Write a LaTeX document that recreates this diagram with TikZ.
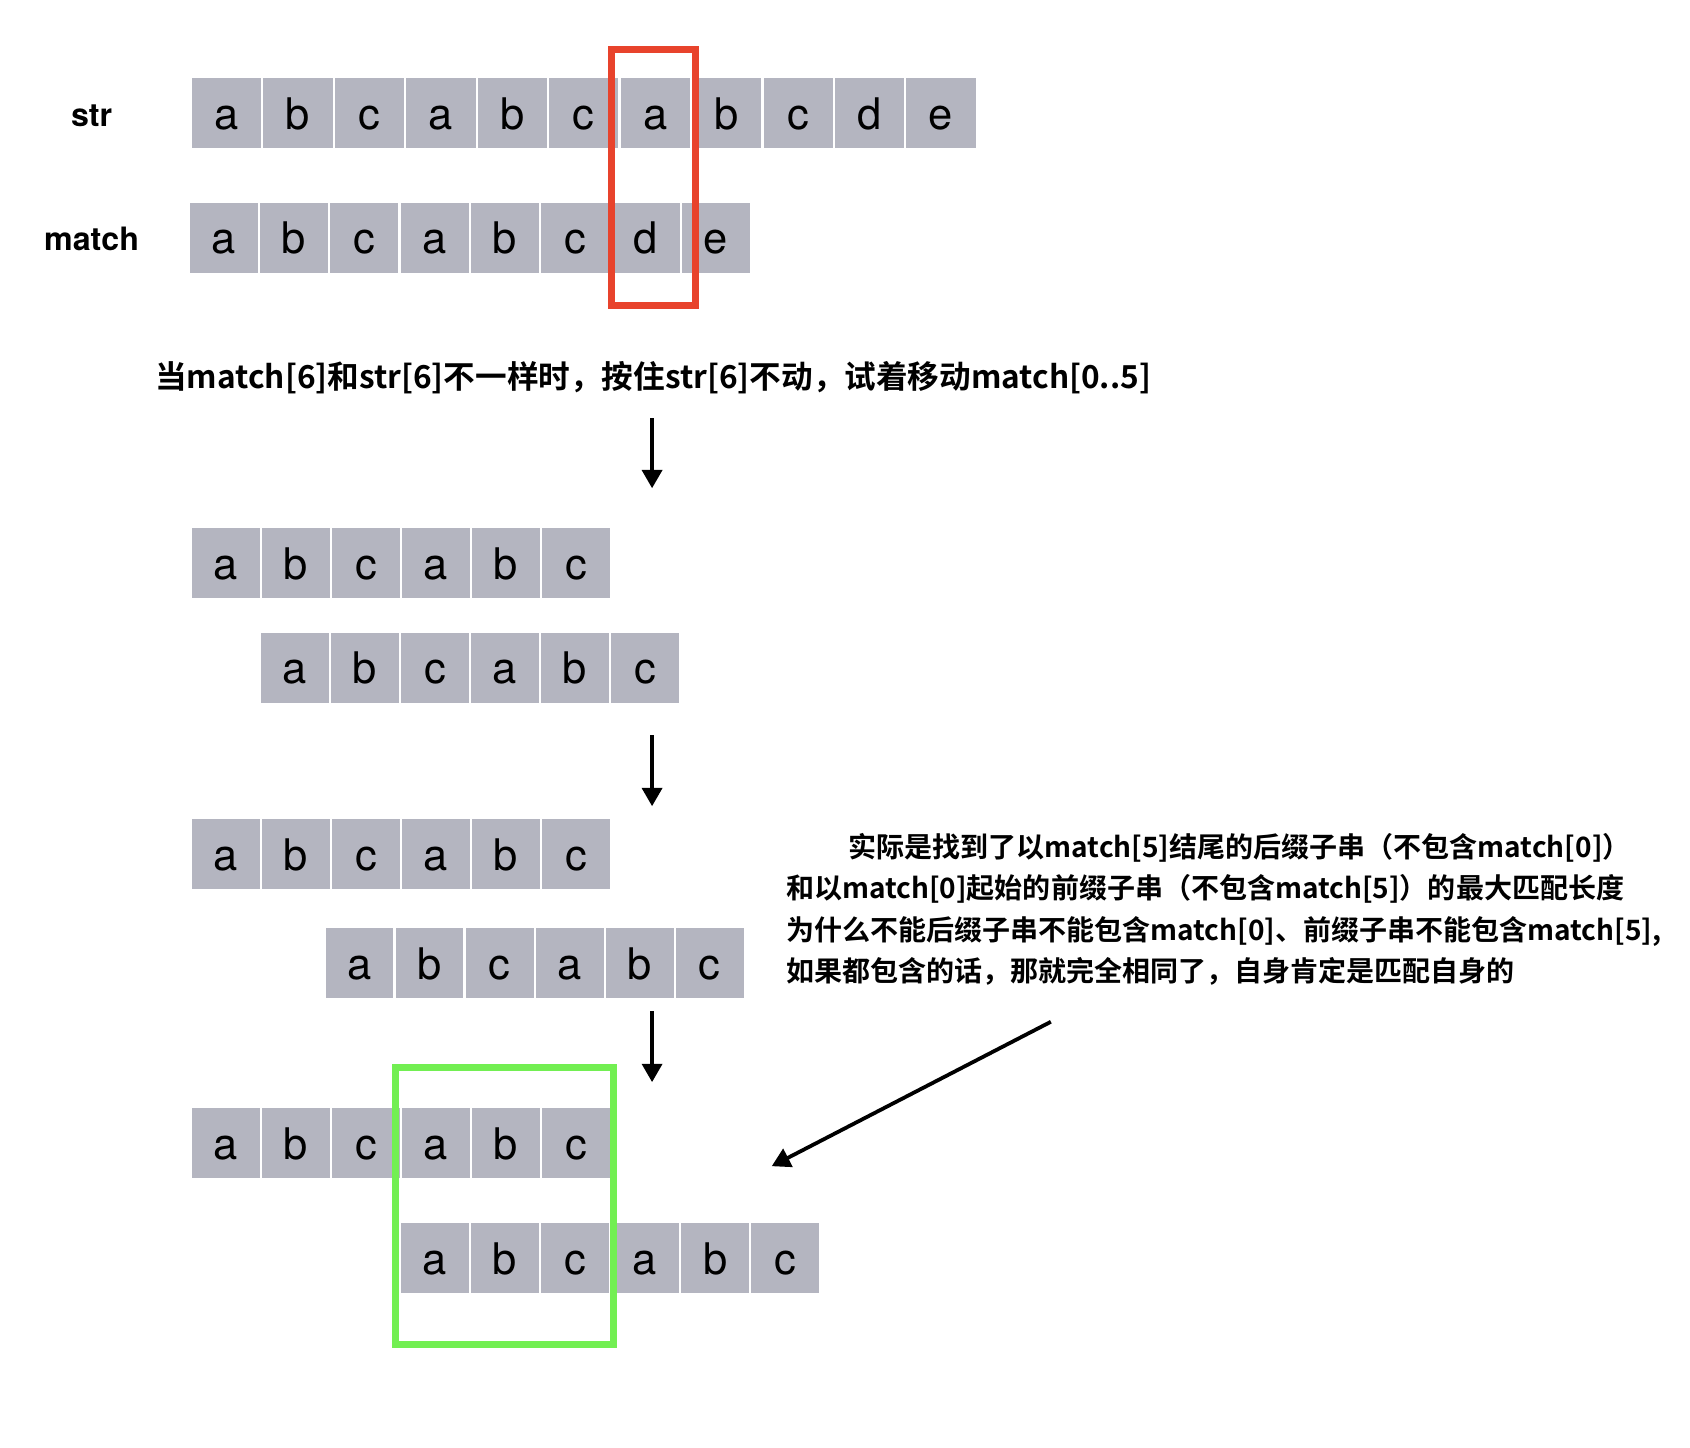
\documentclass[tikz,border=0pt]{standalone}
\usepackage{fontspec}
\setmainfont{TeX Gyre Heros}
\newfontfamily\cjk[BoldFont={Noto Sans CJK SC Bold}]{Noto Sans CJK SC}
\usetikzlibrary{arrows.meta,positioning}
\definecolor{cellgray}{RGB}{180,181,192}
\definecolor{missred}{RGB}{232,67,44}
\definecolor{hitgreen}{RGB}{114,239,82}

\begin{document}
\begin{tikzpicture}[x=0.02cm,y=-0.02cm,>={Triangle[length=0.34cm,width=0.37cm]},
 cell/.style={fill=cellgray,inner sep=0pt,minimum width=1.26cm,minimum height=1.3cm,
  text height=0.6cm,text depth=0cm,font=\fontsize{23}{23}\selectfont},
 lbl/.style={font=\bfseries\fontsize{17}{20}\selectfont},
 hint/.style={font=\cjk\bfseries\fontsize{16.7}{20}\selectfont,inner sep=0pt},
 note/.style={font=\cjk\bfseries\fontsize{14.8}{21.8}\selectfont,align=left,anchor=north west,inner sep=0pt},
 mover/.style={->,line width=2pt}]
 \useasboundingbox (0,0) rectangle (1568,1343);
 % str and match
 \node[lbl] (strlbl) at (85,107) {str};
 \node[lbl] (matchlbl) at (85,222) {match};
 \foreach \c [count=\i] in {a,b,c,a,b,c,a,b,c,d,e}
  \node[cell,minimum width=1.286cm] (s\i) at ({177+33.15+(\i-1)*66.3},105) {\c};
 \foreach \c [count=\i] in {a,b,c,a,b,c,d,e}
  \node[cell,minimum width=1.265cm] (m\i) at ({175+32.6+(\i-1)*65.25},220.5) {\c};
 \draw[missred,line width=0.13cm] (567,46) rectangle (645,283);

 \node[hint] (hinttext) at (606,350) {当match[6]和str[6]不一样时，按住str[6]不动，试着移动match[0..5]};
 \coordinate (a1) at (605,388);
 \coordinate (a2) at (605,453);
 \draw[mover] (a1) -- (a2);

 % shift by one
 \foreach \c [count=\i] in {a,b,c,a,b,c}
  \node[cell] (p\i) at ({177+32.5+(\i-1)*65},522.5) {\c};
 \foreach \c [count=\i] in {a,b,c,a,b,c}
  \node[cell] (q\i) at ({241+32.5+(\i-1)*65},619.5) {\c};
 \coordinate (b1) at (605,682);
 \coordinate (b2) at (605,748);
 \draw[mover] (b1) -- (b2);

 % shift by two
 \foreach \c [count=\i] in {a,b,c,a,b,c}
  \node[cell] (u\i) at ({177+32.5+(\i-1)*65},792.5) {\c};
 \foreach \c [count=\i] in {a,b,c,a,b,c}
  \node[cell] (v\i) at ({301+32.5+(\i-1)*65},893.5) {\c};
 \coordinate (c1) at (605,938);
 \coordinate (c2) at (605,1004);
 \draw[mover] (c1) -- (c2);

 % shift by three
 \foreach \c [count=\i] in {a,b,c,a,b,c}
  \node[cell] (x\i) at ({177+32.5+(\i-1)*65},1060.5) {\c};
 \foreach \c [count=\i] in {a,b,c,a,b,c}
  \node[cell] (y\i) at ({371+32.5+(\i-1)*65},1167.5) {\c};
 \draw[hitgreen,line width=0.13cm] (367,990) rectangle (569,1247);

 \node[note] (notetext) at (729,773) {\hspace*{1.16cm}实际是找到了以match[5]结尾的后缀子串（不包含match[0]）\\
  和以match[0]起始的前缀子串（不包含match[5]）的最大匹配长度\\
  为什么不能后缀子串不能包含match[0]、前缀子串不能包含match[5],\\
  如果都包含的话，那就完全相同了，自身肯定是匹配自身的};
 \coordinate (d1) at (975,948);
 \coordinate (d2) at (716,1082);
 \draw[mover] (d1) -- (d2);
\end{tikzpicture}
\end{document}
